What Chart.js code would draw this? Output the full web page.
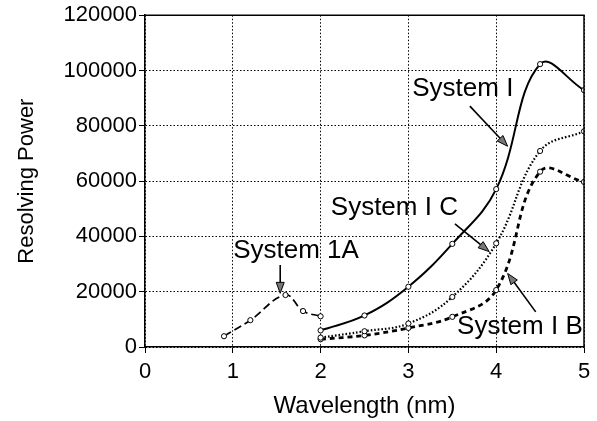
<!DOCTYPE html>
<html>
<head>
<meta charset="utf-8">
<script src="https://cdn.jsdelivr.net/npm/chart.js@4.4.1/dist/chart.umd.min.js"></script>
<style>
  html, body { margin: 0; padding: 0; background: #fff; }
  #wrap { width: 597px; height: 421px; position: relative; }
</style>
</head>
<body>
<div id="wrap"><canvas id="chart" width="597" height="421"></canvas></div>
<script>
// Resolving power versus wavelength for the four spectrometer systems
const wavelength1A = [0.9, 1.2, 1.6, 1.8, 2.0];
const system1A     = [3900, 9700, 18800, 13000, 11100];

const wavelengthI  = [2.0, 2.5, 3.0, 3.5, 4.0, 4.5, 5.0];
const systemI      = [6000, 11400, 21800, 37300, 57100, 102300, 92900];
const systemIC     = [3400, 5700, 8500, 18100, 37500, 70900, 78000];
const systemIB     = [2800, 4200, 6900, 10900, 20600, 63400, 59700];

const xTickValues  = [0, 1, 2, 3, 4, 5];
const yTickValues  = [0, 20000, 40000, 60000, 80000, 100000, 120000];

// Callout labels and their arrows, in data units
const callouts = [
  { text: 'System I',   at: [3.62, 93200], from: [3.70, 87100], to: [4.13, 72600] },
  { text: 'System I C', at: [2.84, 50300], from: [3.53, 44500], to: [3.92, 34500] },
  { text: 'System 1A',  at: [1.72, 34700], from: [1.54, 29650], to: [1.54, 19400] },
  { text: 'System I B', at: [4.27, 7150],  from: [4.45, 12700], to: [4.13, 26600] }
];

const FONT = '"Liberation Sans", Arial, Helvetica, sans-serif';
const INK = '#000';

const toPoints = (xs, ys) => xs.map((x, i) => ({ x: x, y: ys[i] }));

const lineStyle = (dash, width) => ({
  borderColor: INK,
  borderWidth: width,
  borderDash: dash,
  tension: 0.4,
  fill: false,
  pointRadius: 2.6,
  pointBorderWidth: 1,
  pointBorderColor: INK,
  pointBackgroundColor: '#fff',
  pointStyle: 'circle'
});

const framePlugin = {
  id: 'frameAndCallouts',
  afterDatasetsDraw(chart) {
    const { ctx, chartArea: a, scales: { x, y } } = chart;
    ctx.save();
    // solid frame on the top and right sides
    ctx.strokeStyle = INK;
    ctx.lineWidth = 1.5;
    ctx.setLineDash([]);
    ctx.beginPath();
    ctx.moveTo(a.left, a.top);
    ctx.lineTo(a.right, a.top);
    ctx.lineTo(a.right, a.bottom);
    ctx.stroke();

    // callouts
    ctx.font = '26px ' + FONT;
    ctx.textAlign = 'center';
    ctx.textBaseline = 'middle';
    callouts.forEach(c => {
      const tx = x.getPixelForValue(c.at[0]);
      const ty = y.getPixelForValue(c.at[1]);
      ctx.fillStyle = INK;
      ctx.fillText(c.text, tx, ty);

      const x1 = x.getPixelForValue(c.from[0]), y1 = y.getPixelForValue(c.from[1]);
      const x2 = x.getPixelForValue(c.to[0]),   y2 = y.getPixelForValue(c.to[1]);
      const ang = Math.atan2(y2 - y1, x2 - x1);
      const headLen = 11, headHalf = 4;
      const bx = x2 - headLen * Math.cos(ang), by = y2 - headLen * Math.sin(ang);
      ctx.lineWidth = 1.6;
      ctx.strokeStyle = INK;
      ctx.beginPath();
      ctx.moveTo(x1, y1);
      ctx.lineTo(bx, by);
      ctx.stroke();
      ctx.beginPath();
      ctx.moveTo(x2, y2);
      ctx.lineTo(bx + headHalf * Math.sin(ang), by - headHalf * Math.cos(ang));
      ctx.lineTo(bx - headHalf * Math.sin(ang), by + headHalf * Math.cos(ang));
      ctx.closePath();
      ctx.fillStyle = '#777';
      ctx.fill();
      ctx.lineWidth = 1;
      ctx.stroke();
    });
    ctx.restore();
  }
};

new Chart(document.getElementById('chart'), {
  type: 'line',
  data: {
    datasets: [
      Object.assign({ label: 'System 1A', data: toPoints(wavelength1A, system1A) }, lineStyle([8, 4], 1.7)),
      Object.assign({ label: 'System I',  data: toPoints(wavelengthI, systemI) },  lineStyle([], 2)),
      Object.assign({ label: 'System I C', data: toPoints(wavelengthI, systemIC) }, lineStyle([1.6, 2], 2.2)),
      Object.assign({ label: 'System I B', data: toPoints(wavelengthI, systemIB) }, lineStyle([5, 4], 2.8))
    ]
  },
  options: {
    responsive: false,
    animation: false,
    events: [],
    layout: { padding: { top: 15, right: 13, left: 0, bottom: 0 } },
    plugins: { legend: { display: false }, tooltip: { enabled: false } },
    scales: {
      x: {
        type: 'linear',
        min: 0, max: 5,
        afterBuildTicks: s => { s.ticks = xTickValues.map(v => ({ value: v })); },
        afterFit: s => { s.height = 74; },
        ticks: { color: INK, font: { family: FONT, size: 22 }, padding: 6, callback: v => String(v) },
        grid: { color: '#000', lineWidth: 1, tickLength: 6, tickColor: INK, tickWidth: 1, tickBorderDash: [] },
        border: { color: INK, width: 1.5, dash: [1.5, 2] },
        title: { display: true, text: 'Wavelength (nm)', color: INK, font: { family: FONT, size: 24 }, padding: { top: 0, bottom: 0 } }
      },
      y: {
        type: 'linear',
        min: 0, max: 120000,
        afterBuildTicks: s => { s.ticks = yTickValues.map(v => ({ value: v })); },
        afterFit: s => { s.width = 145; },
        ticks: { color: INK, font: { family: FONT, size: 22 }, padding: 2, callback: v => String(v) },
        grid: { color: '#000', lineWidth: 1, tickLength: 6, tickColor: INK, tickWidth: 1, tickBorderDash: [] },
        border: { color: INK, width: 1.5, dash: [1.5, 2] },
        title: { display: true, text: 'Resolving Power', color: INK, font: { family: FONT, size: 22 }, padding: { top: 14, bottom: 0 } }
      }
    }
  },
  plugins: [framePlugin]
});
</script>
</body>
</html>
